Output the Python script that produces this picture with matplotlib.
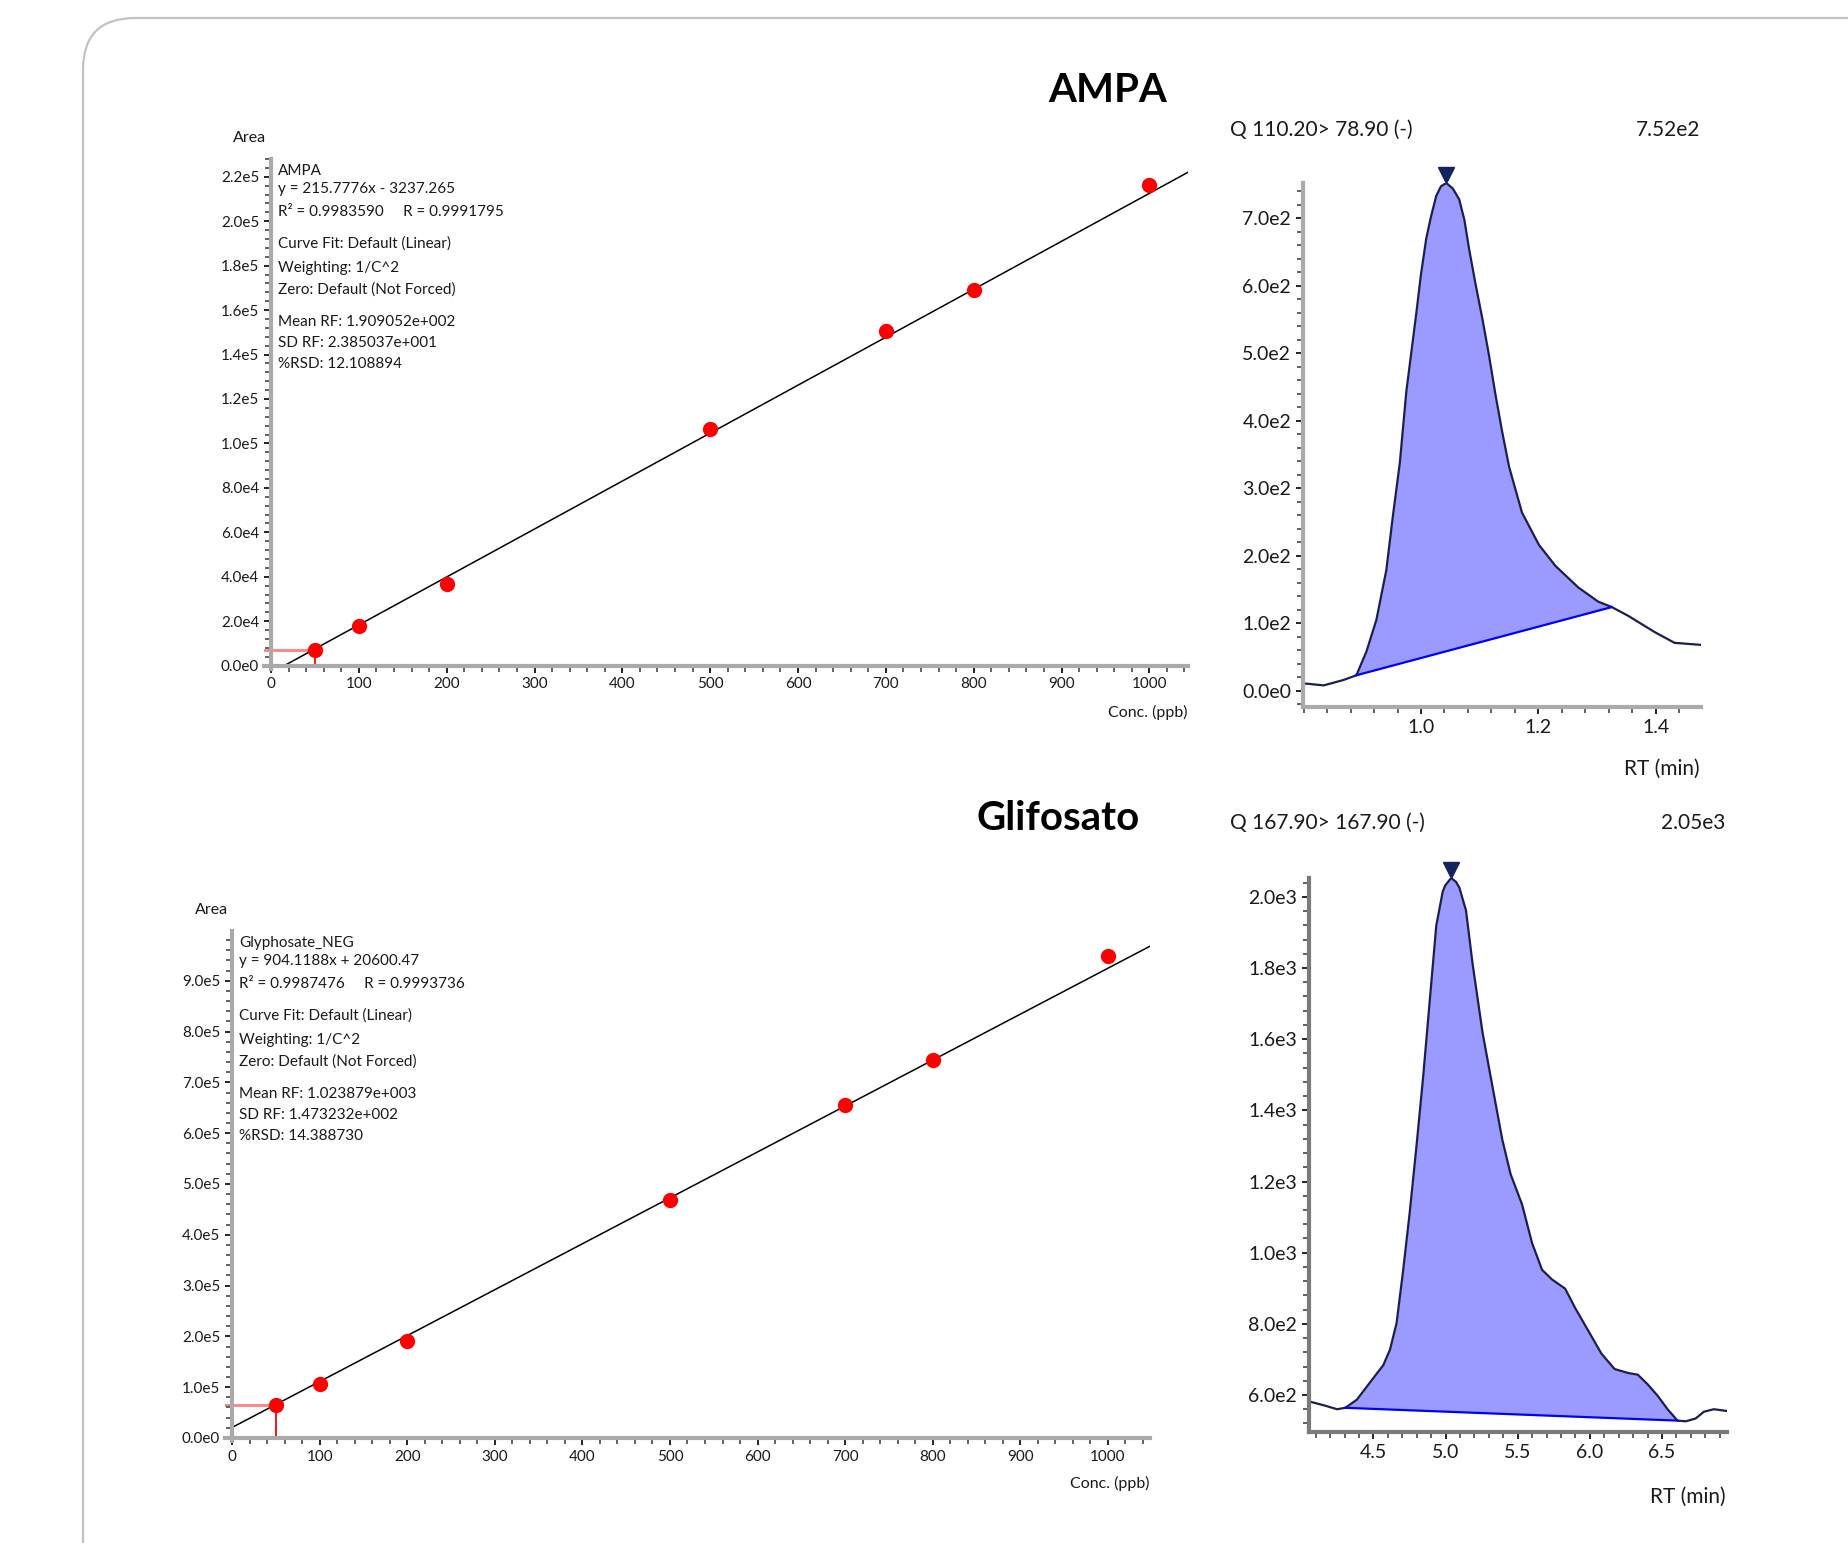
import matplotlib.pyplot as plt
import matplotlib.ticker as mticker
import matplotlib.transforms as mtrans
from matplotlib.patches import FancyBboxPatch
import numpy as np

plt.rcParams['font.family'] = ['Lato', 'DejaVu Sans']

# calibration data
conc = [50, 100, 200, 500, 700, 800, 1000]
ampa_area = [6.9e3, 18.0e3, 36.6e3, 106.6e3, 150.6e3, 169.1e3, 216.3e3]
gly_area = [65e3, 106.7e3, 190e3, 468.6e3, 656e3, 744.6e3, 948.7e3]
ampa_fit = (215.7776, -3237.265)
gly_fit = (904.1188, 20600.47)
ampa_fit_x = [15, 1044]
gly_fit_x = [0, 1048]

ampa_info = ["AMPA", "y = 215.7776x - 3237.265", "R\u00b2 = 0.9983590     R = 0.9991795",
             "Curve Fit: Default (Linear)", "Weighting: 1/C^2", "Zero: Default (Not Forced)",
             "Mean RF: 1.909052e+002", "SD RF: 2.385037e+001", "%RSD: 12.108894"]
gly_info = ["Glyphosate_NEG", "y = 904.1188x + 20600.47", "R\u00b2 = 0.9987476     R = 0.9993736",
            "Curve Fit: Default (Linear)", "Weighting: 1/C^2", "Zero: Default (Not Forced)",
            "Mean RF: 1.023879e+003", "SD RF: 1.473232e+002", "%RSD: 14.388730"]

# chromatograms
ampa_rt = [0.800, 0.834, 0.868, 0.890, 0.907, 0.924, 0.941, 0.952, 0.964, 0.975, 0.992, 1.000,
           1.009, 1.017, 1.026, 1.034, 1.043, 1.054, 1.065, 1.074, 1.082, 1.093, 1.105, 1.116,
           1.127, 1.138, 1.150, 1.161, 1.172, 1.201, 1.229, 1.268, 1.302,
           1.325, 1.353, 1.398, 1.432, 1.477]
ampa_int = [11, 8, 16, 23, 58, 105, 179, 258, 338, 443, 559, 617,
            670, 702, 733, 747, 752, 744, 728, 697, 654, 602, 549, 496,
            438, 385, 332, 298, 264, 216, 185, 153, 132,
            124, 111, 87, 71, 68]
ampa_base = (3, 33)  # indices of integration start / end

gly_rt = [4.053, 4.156, 4.248, 4.305, 4.385, 4.477, 4.568, 4.614, 4.660, 4.706, 4.751, 4.797,
          4.843, 4.889, 4.935, 4.980, 4.997, 5.038, 5.072, 5.095, 5.141, 5.187, 5.256, 5.324,
          5.393, 5.450, 5.530, 5.599, 5.668, 5.736, 5.828, 5.897, 5.988, 6.080, 6.171, 6.263,
          6.332, 6.400, 6.469, 6.538, 6.607, 6.664, 6.733, 6.790, 6.859, 6.950]
gly_int = [582, 571, 560, 564, 587, 636, 684, 727, 802, 952, 1113, 1296,
           1489, 1704, 1919, 2015, 2032, 2053, 2042, 2026, 1962, 1811, 1618, 1468,
           1317, 1221, 1135, 1027, 952, 925, 899, 845, 781, 716, 673, 662,
           657, 630, 598, 560, 528, 526, 534, 553, 560, 555]
gly_base = (3, 40)

W, H = 1849, 1543
fig = plt.figure(figsize=(W / 100, H / 100), dpi=100)

bg = fig.add_axes([0, 0, 1, 1])
bg.set_xlim(0, W)
bg.set_ylim(H, 0)
bg.axis('off')
bg.add_patch(FancyBboxPatch((83, 18), 1900, 1700, boxstyle='round,pad=0,rounding_size=52',
                            fc='white', ec='#c2c2c2', lw=1.6))


def box(x0, y0, x1, y1):
    ax = fig.add_axes([x0 / W, 1 - y1 / H, (x1 - x0) / W, (y1 - y0) / H])
    ax.set_facecolor('none')
    return ax


def sci(v, pos):
    if abs(v) < 1e-9:
        return '0.0e0'
    e = int(np.floor(np.log10(abs(v)) + 1e-9))
    return f'{v / 10 ** e:.1f}e{e}'


def style(ax, spine_col, lab_size):
    for s in ['top', 'right']:
        ax.spines[s].set_visible(False)
    for s in ['left', 'bottom']:
        ax.spines[s].set_color(spine_col)
        ax.spines[s].set_linewidth(3)
    ax.tick_params(which='both', direction='out', color='#555555', width=1.3,
                   labelsize=lab_size, labelcolor='#1a1a1a')
    ax.tick_params(which='major', length=5, color='#111111')
    ax.tick_params(which='minor', length=4)


def calib(ax, area, fit, fit_x, xlim, ylim, ymaj, ymin):
    ax.set_xlim(*xlim)
    ax.set_ylim(*ylim)
    style(ax, '#aaaaaa', 11)
    ax.spines['left'].set_position(('data', 0))
    ax.spines['bottom'].set_position(('data', 0))
    fx = np.array(fit_x)
    ax.plot(fx, fit[0] * fx + fit[1], color='black', lw=1.1, zorder=2)
    ax.plot([xlim[0], conc[0]], [area[0], area[0]], color='#ff8080', lw=2, zorder=1)
    ax.plot([conc[0], conc[0]], [0, area[0]], color='red', lw=1.3, zorder=1)
    ax.plot(conc, area, 'o', color='#ff0000', ms=11, mec='none', zorder=3)
    ax.xaxis.set_major_locator(mticker.MultipleLocator(100))
    ax.xaxis.set_minor_locator(mticker.MultipleLocator(20))
    ax.yaxis.set_major_locator(mticker.MultipleLocator(ymaj))
    ax.yaxis.set_minor_locator(mticker.MultipleLocator(ymin))
    ax.yaxis.set_major_formatter(mticker.FuncFormatter(sci))


def chrom(ax, rt, inten, base, xlim, ylim, xt, xmin, ymaj, ymin, spine_col):
    rt = np.array(rt)
    inten = np.array(inten)
    ax.set_xlim(*xlim)
    ax.set_ylim(*ylim)
    style(ax, spine_col, 14)
    i0, i1 = base
    seg_x = rt[i0:i1 + 1]
    seg_b = np.interp(seg_x, [rt[i0], rt[i1]], [inten[i0], inten[i1]])
    ax.fill_between(seg_x, inten[i0:i1 + 1], seg_b, color='#9b9bff', lw=0, zorder=1)
    ax.plot(rt, inten, color='#1c1f4d', lw=1.6, zorder=2)
    ax.plot([rt[i0], rt[i1]], [inten[i0], inten[i1]], color='#0000ff', lw=1.6, zorder=3)
    k = int(np.argmax(inten))
    trans = mtrans.offset_copy(ax.transData, fig=fig, y=6, units='points')
    ax.plot(rt[k], inten[k], marker='v', ms=11, color='#13235e', transform=trans,
            clip_on=False, zorder=4)
    ax.xaxis.set_major_locator(mticker.FixedLocator(xt))
    ax.xaxis.set_minor_locator(mticker.MultipleLocator(xmin))
    ax.xaxis.set_major_formatter(mticker.FormatStrFormatter('%.1f'))
    ax.yaxis.set_major_locator(mticker.MultipleLocator(ymaj))
    ax.yaxis.set_minor_locator(mticker.MultipleLocator(ymin))
    ax.yaxis.set_major_formatter(mticker.FuncFormatter(sci))


ax1 = box(264, 159, 1188, 669)
calib(ax1, ampa_area, ampa_fit, ampa_fit_x, (-8, 1044), (-1.5e3, 228e3), 2e4, 4e3)
ax2 = box(225, 931, 1150, 1441)
calib(ax2, gly_area, gly_fit, gly_fit_x, (-8, 1048), (-6e3, 998e3), 1e5, 2e4)

ax3 = box(1303, 183, 1701, 707)
chrom(ax3, ampa_rt, ampa_int, ampa_base, (0.799, 1.477), (-24, 752),
      [1.0, 1.2, 1.4], 0.04, 100, 20, '#aaaaaa')
ax4 = box(1309, 878, 1727, 1432)
chrom(ax4, gly_rt, gly_int, gly_base, (4.053, 6.95), (496, 2053),
      [4.5, 5.0, 5.5, 6.0, 6.5], 0.1, 200, 40, '#7a7a7a')
ax4.yaxis.set_major_locator(mticker.FixedLocator(np.arange(600, 2001, 200)))

# text on the page
line_dy = [0, 18, 41, 73, 97, 119, 151, 172, 193]
for info, x0, y0 in [(ampa_info, 278, 171), (gly_info, 239, 943)]:
    for s, dy in zip(info, line_dy):
        bg.text(x0, y0 + dy, s, fontsize=11, ha='left', va='center', color='#1a1a1a')

bg.text(250, 138, 'Area', fontsize=11.5, ha='center', va='center', color='#1a1a1a')
bg.text(212, 910, 'Area', fontsize=11.5, ha='center', va='center', color='#1a1a1a')
bg.text(1188, 712, 'Conc. (ppb)', fontsize=11.5, ha='right', va='center', color='#1a1a1a')
bg.text(1150, 1483, 'Conc. (ppb)', fontsize=11.5, ha='right', va='center', color='#1a1a1a')

bg.text(1108, 91, 'AMPA', fontsize=29, fontweight='bold', ha='center', va='center')
bg.text(1058, 818, 'Glifosato', fontsize=29, fontweight='bold', ha='center', va='center')

bg.text(1230, 130, 'Q 110.20> 78.90 (-)', fontsize=15, ha='left', va='center', color='#1a1a1a')
bg.text(1700, 130, '7.52e2', fontsize=15, ha='right', va='center', color='#1a1a1a')
bg.text(1230, 823, 'Q 167.90> 167.90 (-)', fontsize=15, ha='left', va='center', color='#1a1a1a')
bg.text(1725, 823, '2.05e3', fontsize=15, ha='right', va='center', color='#1a1a1a')
bg.text(1700, 769, 'RT (min)', fontsize=15, ha='right', va='center', color='#1a1a1a')
bg.text(1726, 1497, 'RT (min)', fontsize=15, ha='right', va='center', color='#1a1a1a')

fig.savefig('out.png', dpi=100)
